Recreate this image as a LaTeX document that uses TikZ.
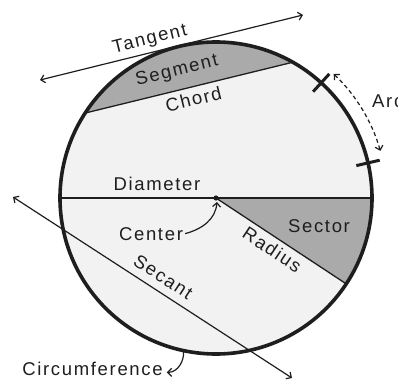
\documentclass[tikz,border=0pt]{standalone}
\usepackage{fontspec}
\setmainfont{Liberation Sans}[LetterSpace=9]
\usepackage{tikz}
\usetikzlibrary{arrows.meta,calc}
\definecolor{inkgray}{RGB}{30,30,30}
\definecolor{diskfill}{RGB}{242,242,242}
\definecolor{partfill}{RGB}{170,170,170}
\newcommand{\lblfont}{\fontsize{18.5}{20}\selectfont}

\begin{document}
\begin{tikzpicture}[x=1pt, y=1pt, >={Straight Barb[length=4pt,width=8pt]}]
\useasboundingbox (-216,-183) rectangle (182,198);
% Points on the circle
\coordinate (O) at (0,0);
\coordinate (chL) at (147:156);
\coordinate (chR) at (60.5:156);
\coordinate (dL) at (180:156);
\coordinate (dR) at (0:156);
\coordinate (rE) at (-33.4:156);
\coordinate (tanL) at (-176,118);
\coordinate (tanR) at (87,183);
\coordinate (secL) at (-203,1);
\coordinate (secR) at (76,-180);
% Disk, segment and sector
\fill[diskfill] (O) circle (156);
\fill[partfill] (chR) arc (60.5:147:156) -- cycle;
\fill[partfill] (O) -- (dR) arc (0:-33.4:156) -- cycle;
% Lines
\draw[line width=1.3pt, inkgray] (chL) -- (chR);
\draw[line width=1.3pt, inkgray] (dL) -- (dR);
\draw[line width=1.3pt, inkgray] (O) -- (rE);
\draw[<->, line width=1.2pt, inkgray] (tanL) -- (tanR);
\draw[<->, line width=1.2pt, inkgray] (secL) -- (secR);
\draw[line width=3.6pt, inkgray] (O) circle (156);
\fill[inkgray] (O) circle (2.6);
% Arc marks
\draw[line width=3pt, inkgray] (47.6:144) -- (47.6:168);
\draw[line width=3pt, inkgray] (13:144) -- (13:168);
\draw[<->, line width=1.2pt, inkgray, dash pattern=on 4pt off 3pt] (46.5:171) arc (46.5:16:171);
% Labels
\node[font=\lblfont, text=inkgray, inner sep=0pt, anchor=base, rotate=13.8] (tangent) at (-65,154) {Tangent};
\node[font=\lblfont, text=inkgray, inner sep=0pt, anchor=base, rotate=13.8] (segment) at (-38,122.5) {Segment};
\node[font=\lblfont, text=inkgray, inner sep=0pt, anchor=base, rotate=13.8] (chord) at (-21,92.5) {Chord};
\node[font=\lblfont, text=inkgray, inner sep=0pt, anchor=base west] (arc) at (156,91) {Arc};
\node[font=\lblfont, text=inkgray, inner sep=0pt, anchor=base] (diameter) at (-59,8) {Diameter};
\node[font=\lblfont, text=inkgray, inner sep=0pt, anchor=base] (center) at (-65,-42) {Center};
\node[font=\lblfont, text=inkgray, inner sep=0pt, anchor=base] (sector) at (103,-34) {Sector};
\node[font=\lblfont, text=inkgray, inner sep=0pt, anchor=base, rotate=-33.4] (radius) at (52.7,-57) {Radius};
\node[font=\lblfont, text=inkgray, inner sep=0pt, anchor=base, rotate=-33] (secant) at (-56.3,-84) {Secant};
\node[font=\lblfont, text=inkgray, inner sep=0pt, anchor=base] (circum) at (-123.5,-177) {Circumference};
% Pointer arrows
\coordinate (ctip) at (1,-4);
\draw[->, line width=1.2pt, inkgray] ([xshift=2pt]center.east) to[out=15, in=-95] (ctip);
\draw[->, line width=1.2pt, inkgray] (258:156) to[out=-85, in=0] ([xshift=4pt]circum.mid east);
\end{tikzpicture}
\end{document}
